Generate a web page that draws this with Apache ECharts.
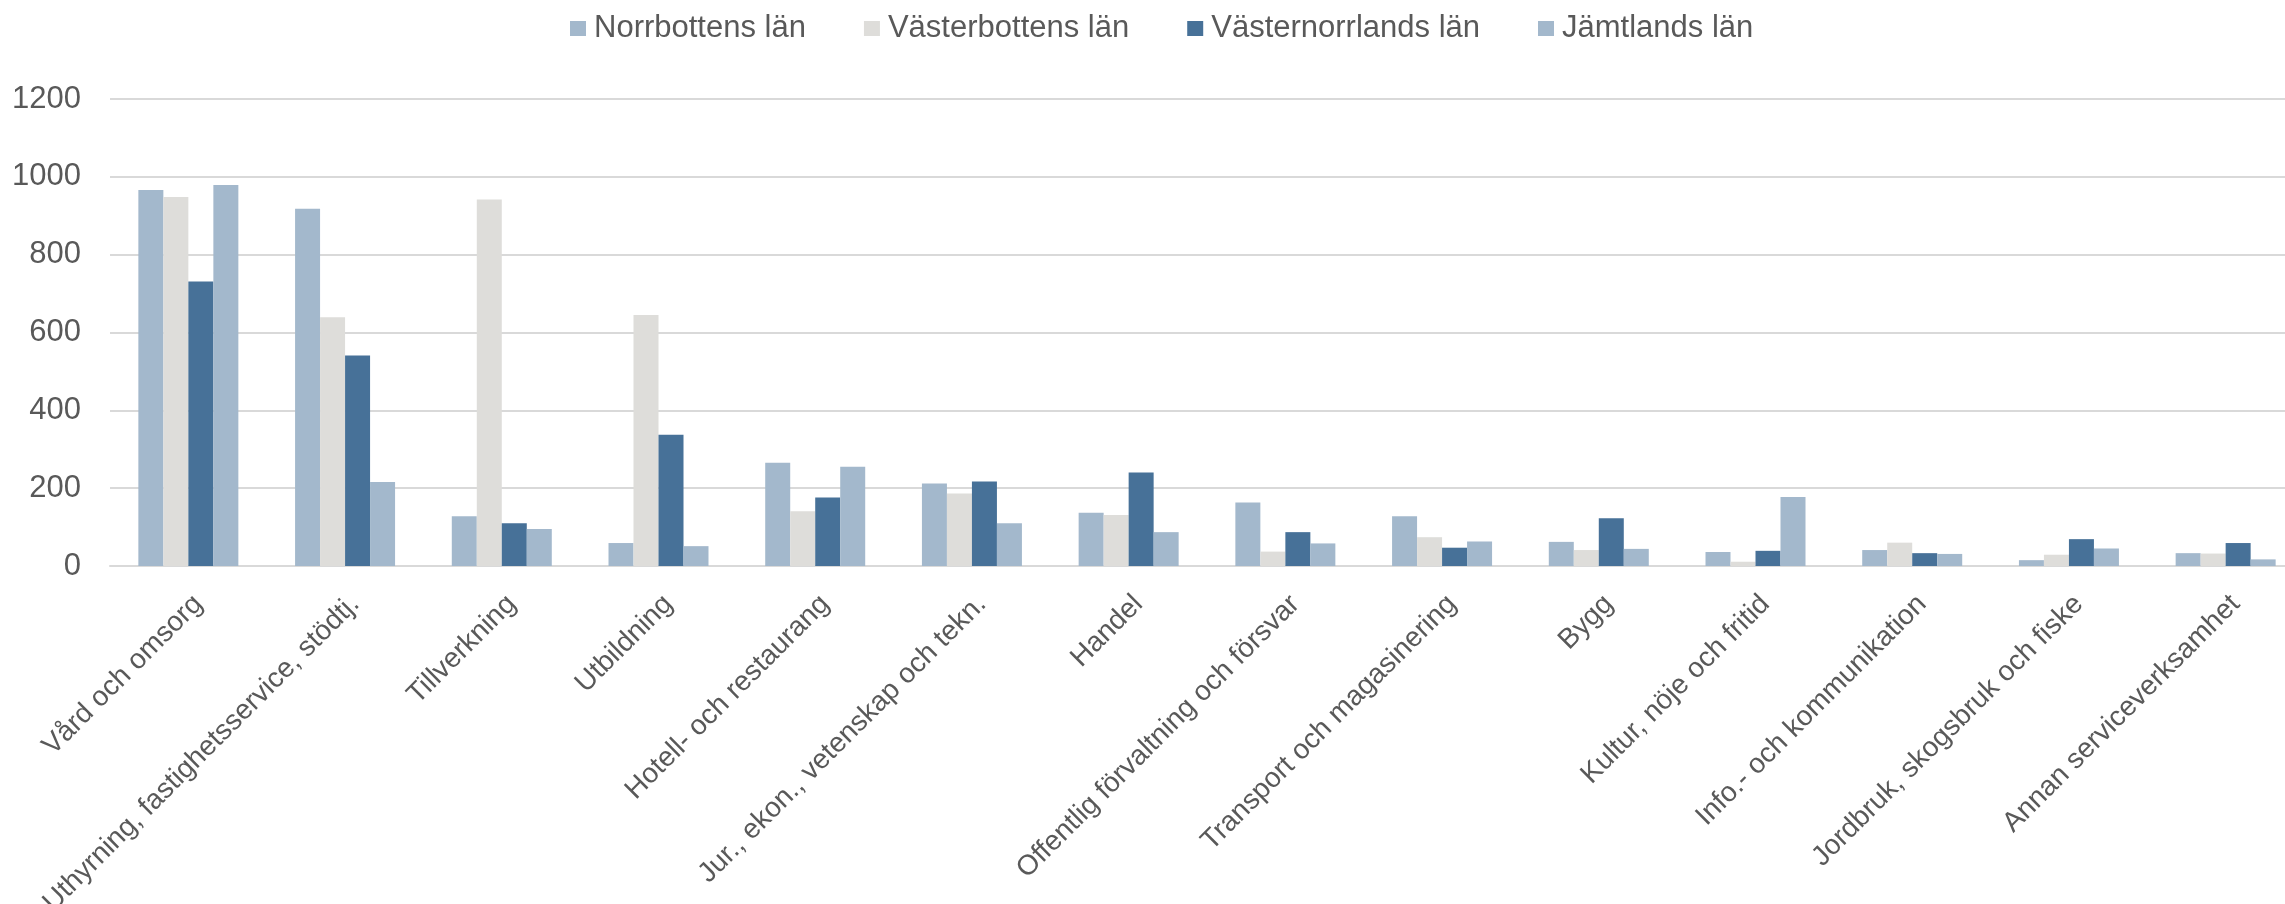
<!DOCTYPE html>
<html>
<head>
<meta charset="utf-8">
<script src="https://cdn.jsdelivr.net/npm/echarts@6/dist/echarts.min.js"></script>
<style>
  html, body { margin: 0; padding: 0; background: #fff; }
  #chart { width: 2285px; height: 904px; }
</style>
</head>
<body>
<div id="chart"></div>
<script>
const categories = [
  'Vård och omsorg',
  'Uthyrning, fastighetsservice, stödtj.',
  'Tillverkning',
  'Utbildning',
  'Hotell- och restaurang',
  'Jur., ekon., vetenskap och tekn.',
  'Handel',
  'Offentlig förvaltning och försvar',
  'Transport och magasinering',
  'Bygg',
  'Kultur, nöje och fritid',
  'Info.- och kommunikation',
  'Jordbruk, skogsbruk och fiske',
  'Annan serviceverksamhet'
];

const seriesNames = ['Norrbottens län', 'Västerbottens län', 'Västernorrlands län', 'Jämtlands län'];

const norrbotten = [966, 918, 128, 59, 265, 212, 137, 163, 128, 62, 36, 41, 15, 33];
const vasterbotten = [948, 639, 942, 645, 141, 186, 131, 37, 74, 41, 11, 60, 29, 32];
const vasternorrland = [731, 541, 110, 337, 176, 217, 240, 87, 47, 123, 39, 33, 69, 59];
const jamtland = [979, 216, 95, 51, 255, 110, 87, 58, 63, 44, 177, 31, 45, 17];

const yTicks = [0, 200, 400, 600, 800, 1000, 1200];

const colors = ['#A3B8CC', '#DEDDDA', '#477198', '#A3B8CC'];
const font = 'Liberation Sans, Arial, sans-serif';

const chart = echarts.init(document.getElementById('chart'));

const seriesData = [norrbotten, vasterbotten, vasternorrland, jamtland];

const option = {
  backgroundColor: '#fff',
  animation: false,
  color: colors,
  legend: {
    top: 8,
    left: 565,
    itemWidth: 16,
    itemHeight: 15,
    itemGap: 58,
    icon: 'rect',
    textStyle: { color: '#595959', fontSize: 31, fontFamily: font, padding: [0, 0, 0, 3] },
    data: seriesNames
  },
  grid: {
    left: 110,
    right: -19,
    top: 99,
    bottom: 338,
    containLabel: false,
    outerBoundsMode: 'none'
  },
  xAxis: {
    type: 'category',
    data: categories,
    axisLine: { lineStyle: { color: '#D9D9D9', width: 2 } },
    axisTick: { show: false },
    axisLabel: {
      interval: 0,
      rotate: 45,
      margin: 24,
      align: 'right',
      verticalAlign: 'top',
      color: '#595959',
      fontSize: 28,
      fontFamily: font
    }
  },
  yAxis: {
    type: 'value',
    min: yTicks[0],
    max: yTicks[yTicks.length - 1],
    interval: 200,
    axisLine: { show: false },
    axisTick: { show: false },
    axisLabel: {
      margin: 29,
      color: '#595959',
      fontSize: 31,
      fontFamily: font,
      formatter: v => String(v)
    },
    splitLine: { lineStyle: { color: '#D9D9D9', width: 2 } }
  },
  series: seriesNames.map((name, i) => ({
    name: name,
    type: 'bar',
    data: seriesData[i],
    barWidth: 25,
    barGap: '0%',
    itemStyle: { color: colors[i] }
  }))
};

chart.setOption(option);
</script>
</body>
</html>
